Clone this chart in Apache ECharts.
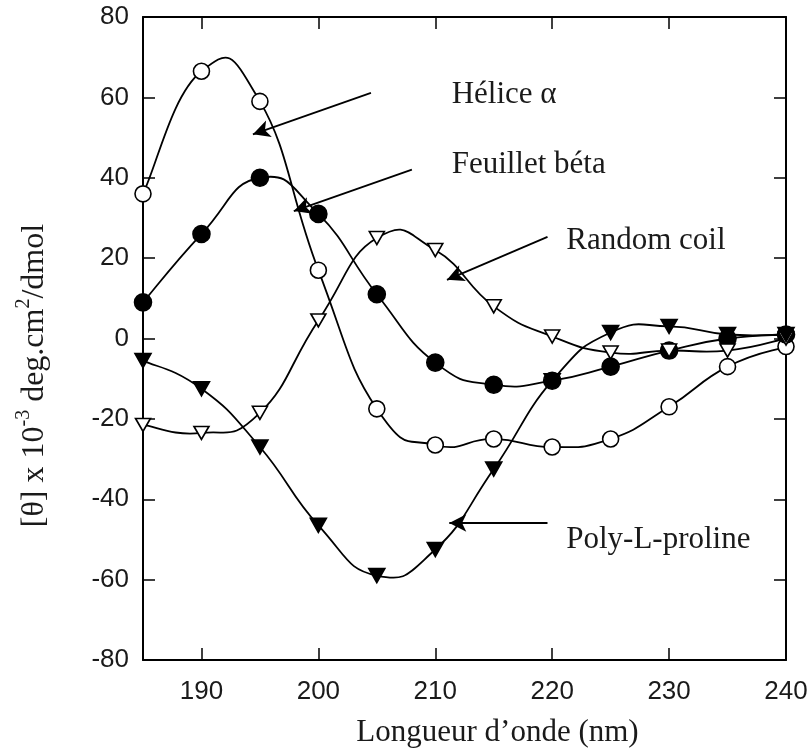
<!DOCTYPE html>
<html><head><meta charset="utf-8">
<script src="https://cdn.jsdelivr.net/npm/echarts@6/dist/echarts.min.js"></script>
<style>html,body{margin:0;padding:0;background:#fff}#c{width:811px;height:753px}</style>
</head><body><div id="c"></div>
<script>
// Data (wavelength in nm, [θ] x 10^-3 deg.cm2/dmol)
const wavelengths = [185, 190, 195, 200, 205, 210, 215, 220, 225, 230, 235, 240];
const helix  = [36, 66.5, 59, 17, -17.5, -26.5, -25, -27, -25, -17, -7, -2];
const beta   = [9, 26, 40, 31, 11, -6, -11.5, -10.5, -7, -3, 0, 1];
const coil   = [-21.5, -23.5, -18.5, 4.5, 25, 22, 8, 0.5, -3.5, -3, -3, 0];
const ppii   = [-5.5, -12.5, -27, -46.5, -59, -52.5, -32.5, -10.5, 1.5, 3, 1, 1];
const xTicks = [190, 200, 210, 220, 230, 240];
const yMin = -80, yMax = 80, yStep = 20;
const xMin = 185, xMax = 240;
const xTitle = 'Longueur d\u2019onde (nm)';
const labels = ['Hélice α', 'Feuillet béta', 'Random coil', 'Poly-L-proline'];
const labelPos = [[211.4, 60.6], [211.4, 43.3], [221.2, 24.4], [221.2, -50]];
const arrows = [
  [[204.5, 61.1], [194.4, 50.8]],
  [[208.0, 42.0], [197.9, 31.7]],
  [[219.6, 25.3], [211.0, 14.6]],
  [[219.6, -45.9], [211.2, -45.9]]
];

const serif = '"Liberation Serif", "Times New Roman", serif';
const sans = '"Liberation Sans", Arial, Helvetica, sans-serif';
const ink = '#1a1a1a';
const TENSION = 0.25;

function pts(v) { return wavelengths.map((x, i) => [x, v[i]]); }

function axisCommon(showLabel) {
  return {
    axisLine: { show: true, onZero: false, lineStyle: { color: '#000', width: 2 } },
    axisTick: { show: true, inside: true, length: 12, lineStyle: { color: '#000', width: 1.5 } },
    splitLine: { show: false },
    axisLabel: { show: showLabel, fontSize: 26, fontFamily: sans, color: ink }
  };
}

const chart = echarts.init(document.getElementById('c'), null, { renderer: 'canvas' });

function xAx(pos, showLabel) {
  const a = axisCommon(showLabel);
  a.axisTick.customValues = xTicks;
  a.axisLabel.customValues = xTicks;
  a.axisLabel.margin = 19;
  a.axisLabel.showMaxLabel = true;
  return Object.assign({ type: 'value', min: xMin, max: xMax, position: pos }, a);
}
function yAx(pos, showLabel) {
  const a = axisCommon(showLabel);
  a.axisLabel.margin = 14;
  return Object.assign({ type: 'value', min: yMin, max: yMax, interval: yStep, position: pos }, a);
}

const xBottom = xAx('bottom', true);
xBottom.name = xTitle;
xBottom.nameLocation = 'middle';
xBottom.nameGap = 57;
xBottom.nameTextStyle = { fontFamily: serif, fontSize: 31, color: ink, padding: [0, 0, 0, 66] };

const yLeft = yAx('left', true);
yLeft.name = '{t|[θ] x 10}{s|-3}{t| deg.cm}{s|2}{t|/dmol}';
yLeft.nameLocation = 'middle';
yLeft.nameRotate = 90;
yLeft.nameGap = 92;
yLeft.nameTextStyle = {
  fontFamily: serif, fontSize: 32, color: ink, padding: [0, 74, 0, 0],
  rich: {
    t: { fontFamily: serif, fontSize: 32, color: ink, lineHeight: 37, verticalAlign: 'bottom' },
    s: { fontFamily: serif, fontSize: 20, color: ink, lineHeight: 20, verticalAlign: 'top' }
  }
};

// Smooth curve through the data points, drawn via the axis scales (api.coord)
function curveSeries(v) {
  const n = v.length;
  return {
    type: 'custom', coordinateSystem: 'cartesian2d', xAxisIndex: 0, yAxisIndex: 0,
    data: pts(v), encode: { x: 0, y: 1 }, clip: false, silent: true, z: 2,
    renderItem: function (params, api) {
      const i = params.dataIndex;
      if (i >= n - 1) return null;
      const P = j => { const k = Math.max(0, Math.min(n - 1, j)); return api.coord([wavelengths[k], v[k]]); };
      const p0 = P(i - 1), p1 = P(i), p2 = P(i + 1), p3 = P(i + 2);
      return {
        type: 'bezierCurve',
        shape: {
          x1: p1[0], y1: p1[1], x2: p2[0], y2: p2[1],
          cpx1: p1[0] + (p2[0] - p0[0]) * TENSION, cpy1: p1[1] + (p2[1] - p0[1]) * TENSION,
          cpx2: p2[0] - (p3[0] - p1[0]) * TENSION, cpy2: p2[1] - (p3[1] - p1[1]) * TENSION
        },
        style: { stroke: '#000', lineWidth: 1.8, fill: 'none' }
      };
    }
  };
}

function markerSeries(name, v, symbol, filled, size, extra) {
  return Object.assign({
    name: name, type: 'scatter', data: pts(v), clip: false, z: 3,
    symbol: symbol, symbolSize: size, symbolRotate: symbol === 'triangle' ? 180 : 0,
    itemStyle: { color: filled ? '#000' : '#fff', borderColor: '#000', borderWidth: 1.6, opacity: 1 },
    emphasis: { disabled: true }
  }, extra || {});
}

const option = {
  animation: false,
  backgroundColor: '#fff',
  grid: { left: 143, top: 17, right: 25, bottom: 88, containLabel: false },
  xAxis: [xBottom, xAx('top', false)],
  yAxis: [yLeft, yAx('right', false)],
  series: [
    curveSeries(helix), curveSeries(beta), curveSeries(coil), curveSeries(ppii),
    markerSeries('Hélice α', helix, 'circle', false, 16, {
      markLine: {
        silent: true, animation: false,
        symbol: ['none', 'arrow'], symbolSize: [13, 17],
        lineStyle: { color: '#000', width: 1.8, type: 'solid' },
        label: { show: false },
        data: arrows.map(a => [{ coord: a[0] }, { coord: a[1] }])
      }
    }),
    markerSeries('Feuillet béta', beta, 'circle', true, 17),
    markerSeries('Random coil', coil, 'triangle', false, [15, 13]),
    markerSeries('Poly-L-proline', ppii, 'triangle', true, [16, 14])
  ]
};
chart.setOption(option);

const graphics = labels.map((t, i) => {
  const p = chart.convertToPixel({ xAxisIndex: 0, yAxisIndex: 0 }, labelPos[i]);
  return {
    type: 'text', x: p[0], y: p[1], silent: true,
    style: { text: t, fontFamily: serif, fontSize: 31, fill: ink,
             align: 'left', verticalAlign: 'middle', textAlign: 'left', textVerticalAlign: 'middle' }
  };
});
chart.setOption({ graphic: graphics });
</script></body></html>
